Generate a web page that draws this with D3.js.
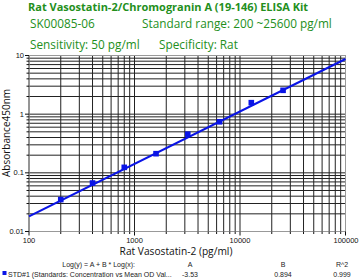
<!DOCTYPE html>
<html>
<head>
<meta charset="utf-8">
<script src="https://cdn.jsdelivr.net/npm/d3@7"></script>
<style>
  body { margin: 0; background: #fff; }
  svg { display: block; }
</style>
</head>
<body>
<svg id="chart" width="359" height="280"></svg>
<script>
const titleLines = [
  ["Rat Vasostatin-2/Chromogranin A (19-146) ELISA Kit"],
  ["SK00085-06", "Standard range: 200 ~25600 pg/ml"],
  ["Sensitivity: 50 pg/ml", "Specificity: Rat"]
];
const concentrations = [200, 400, 800, 1600, 3200, 6400, 12800, 25600];
const odValues = [0.035, 0.067, 0.124, 0.212, 0.456, 0.741, 1.57, 2.55];
const xTickValues = [100, 1000, 10000, 100000];
const yTickValues = [0.01, 0.1, 1, 10];
const yTickLabels = ["0.01", "0.1", "1", "10"];
const fitHeader = ["Log(y) = A + B * Log(x):", "A", "B", "R^2"];
const fitRow = ["STD#1 (Standards: Concentration vs Mean OD Val...", "-3.53", "0.894", "0.999"];
const fitA = -3.53, fitB = 0.894;

const green = "#238f1c";
const blue = "#0a14e6";
const svg = d3.select("#chart");

const x = d3.scaleLog().domain([100, 100000]).range([29, 345.5]);
const y = d3.scaleLog().domain([0.01, 10]).range([231.5, 55.5]);

// header text
svg.append("text").attr("x", 28).attr("y", 10.5)
  .attr("font-family", "Open Sans").attr("font-weight", "bold").attr("font-size", 11)
  .attr("fill", green).text(titleLines[0][0]);
const sub = [[30, 27.5, 142], [30, 48.5, 159]];
titleLines.slice(1).forEach((row, i) => {
  row.forEach((t, j) => {
    svg.append("text").attr("x", j === 0 ? sub[i][0] : sub[i][2]).attr("y", sub[i][1])
      .attr("font-family", "Open Sans").attr("font-size", 11.8)
      .attr("fill", green).text(t);
  });
});

// grid lines at every 1..9 multiple
const gridX = [];
for (let d = 100; d < 100000; d *= 10) for (let k = 1; k < 10; k++) gridX.push(d * k);
const gridY = [];
for (let d = 0.01; d < 9.9; d *= 10) for (let k = 1; k < 10; k++) gridY.push(+(d * k).toPrecision(3));

const g = svg.append("g");
g.selectAll(".gx").data(gridX).join("line")
  .attr("x1", d => x(d)).attr("x2", d => x(d))
  .attr("y1", y.range()[0]).attr("y2", y.range()[1])
  .attr("stroke", "#222").attr("stroke-width", 1);
g.selectAll(".gy").data(gridY).join("line")
  .attr("y1", d => y(d)).attr("y2", d => y(d))
  .attr("x1", x.range()[0]).attr("x2", x.range()[1])
  .attr("stroke", "#222").attr("stroke-width", 1);

// frame
svg.append("rect")
  .attr("x", x.range()[0]).attr("y", y.range()[1])
  .attr("width", x.range()[1] - x.range()[0]).attr("height", y.range()[0] - y.range()[1])
  .attr("fill", "none").attr("stroke", "#999");

// axis ticks
const tickG = svg.append("g").attr("stroke", "#111");
tickG.selectAll(".tx").data(gridX.concat([100000])).join("line")
  .attr("x1", d => x(d)).attr("x2", d => x(d))
  .attr("y1", y.range()[0]).attr("y2", d => y.range()[0] + (xTickValues.includes(d) ? 4 : 2.5));
tickG.selectAll(".ty").data(gridY.concat([10])).join("line")
  .attr("y1", d => y(d)).attr("y2", d => y(d))
  .attr("x1", x.range()[0]).attr("x2", d => x.range()[0] - (yTickValues.includes(d) ? 4 : 2.5));

svg.selectAll(".xl").data(xTickValues).join("text")
  .attr("x", d => x(d)).attr("y", 242.5)
  .attr("text-anchor", (d, i) => i === xTickValues.length - 1 ? "end" : "middle")
  .attr("dx", (d, i) => i === xTickValues.length - 1 ? 13 : 0)
  .attr("font-family", "Liberation Sans").attr("font-size", 7.5).attr("fill", "#111")
  .text(d => d3.format("d")(d));
svg.selectAll(".yl").data(yTickValues).join("text")
  .attr("x", 24).attr("y", d => y(d) + 2.6)
  .attr("text-anchor", "end")
  .attr("font-family", "Liberation Sans").attr("font-size", 7.5).attr("fill", "#111")
  .text((d, i) => yTickLabels[i]);

// axis titles
svg.append("text").attr("x", 176).attr("y", 255).attr("text-anchor", "middle")
  .attr("font-family", "Open Sans").attr("font-size", 10.2).attr("fill", "#111")
  .text("Rat Vasostatin-2 (pg/ml)");
svg.append("text").attr("transform", "translate(10,133) rotate(-90)").attr("text-anchor", "middle")
  .attr("font-family", "Open Sans").attr("font-size", 10).attr("fill", "#111")
  .text("Absorbance450nm");

// fitted line
const line = d3.line().x(d => x(d)).y(d => y(Math.pow(10, fitA + fitB * Math.log10(d))));
svg.append("path").datum(x.domain()).attr("d", line)
  .attr("fill", "none").attr("stroke", blue).attr("stroke-width", 2.2);

// points
svg.selectAll(".pt").data(concentrations).join("rect")
  .attr("x", d => x(d) - 2.8).attr("y", (d, i) => y(odValues[i]) - 2.8)
  .attr("width", 5.6).attr("height", 5.6).attr("fill", blue);

// fit table
const colX = [135, 190, 283, 342];
fitHeader.forEach((t, i) => {
  svg.append("text").attr("x", colX[i]).attr("y", 266.5)
    .attr("text-anchor", i === 0 ? "end" : "middle")
    .attr("font-family", "Liberation Sans").attr("font-size", 7).attr("fill", "#222").text(t);
});
svg.append("rect").attr("x", 2.5).attr("y", 271).attr("width", 4).attr("height", 4).attr("fill", blue);
fitRow.forEach((t, i) => {
  svg.append("text").attr("x", i === 0 ? 8 : colX[i]).attr("y", 276.5)
    .attr("text-anchor", i === 0 ? "start" : "middle")
    .attr("font-family", "Liberation Sans").attr("font-size", 7).attr("fill", "#222").text(t);
});
</script>
</body>
</html>
